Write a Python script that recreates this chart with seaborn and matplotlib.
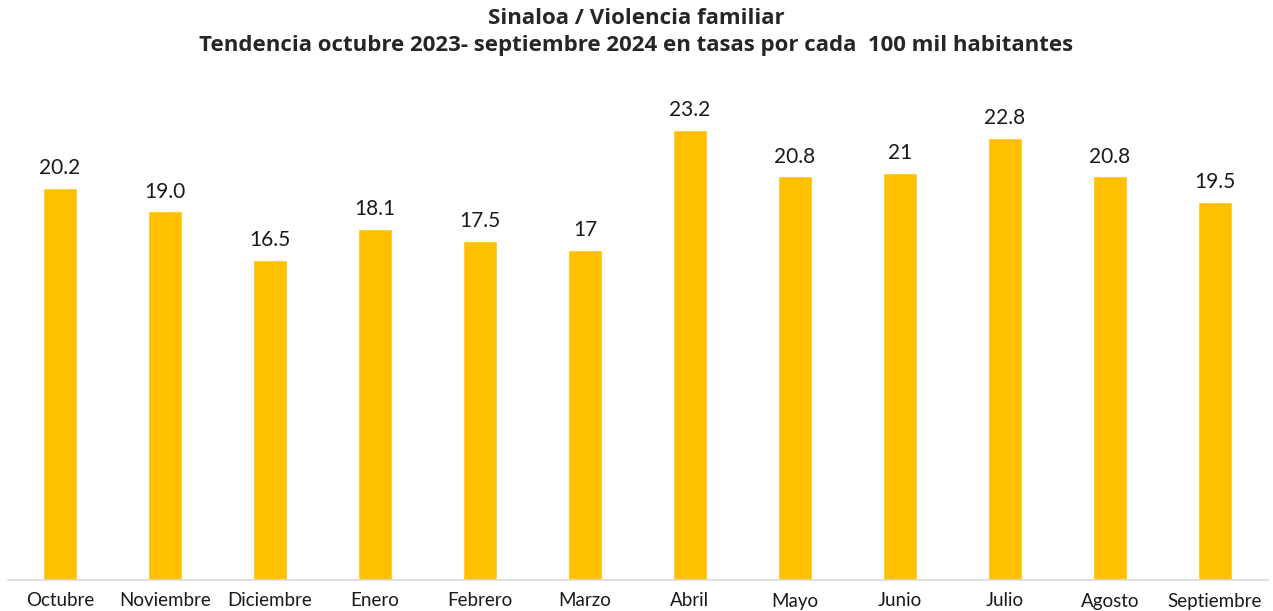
import pandas as pd
import numpy as np
import matplotlib.pyplot as plt
import seaborn as sns

# datos: tasas por cada 100 mil habitantes
meses = ['Octubre', 'Noviembre', 'Diciembre', 'Enero', 'Febrero', 'Marzo',
         'Abril', 'Mayo', 'Junio', 'Julio', 'Agosto', 'Septiembre']
tasas = [20.2, 19.0, 16.5, 18.1, 17.5, 17.0, 23.2, 20.8, 21.0, 22.8, 20.8, 19.5]
etiquetas = ['20.2', '19.0', '16.5', '18.1', '17.5', '17', '23.2', '20.8',
             '21', '22.8', '20.8', '19.5']

df = pd.DataFrame({'mes': meses, 'tasa': tasas})

sns.set_style('white')
plt.rcParams['font.family'] = ['Lato', 'DejaVu Sans']

fig = plt.figure(figsize=(12.73, 6.11), dpi=100)
ax = fig.add_axes([7.5 / 1273, 31 / 611, 1260 / 1273, 520 / 611])

sns.barplot(data=df, x='mes', y='tasa', color='#FFC000', saturation=1,
            width=0.33, ax=ax)

for i, (v, t) in enumerate(zip(tasas, etiquetas)):
    ax.text(i, v + 0.5, t, ha='center', va='bottom', fontsize=15, color='#1a1a1a')

ax.set_ylim(0, 520 / 19.4)
ax.set_xlim(-0.5, len(meses) - 0.5)
ax.set_xlabel('')
ax.set_ylabel('')
ax.set_yticks([])
ax.tick_params(axis='x', length=0, labelsize=13.5, pad=9, colors='#1a1a1a')
for s in ['top', 'left', 'right']:
    ax.spines[s].set_visible(False)
ax.spines['bottom'].set_color('#d9d9d9')
ax.spines['bottom'].set_linewidth(1.2)

fig.text(0.5, 1 - 19 / 611, 'Sinaloa / Violencia familiar', ha='center', va='center',
         fontsize=16, fontweight='bold', family=['Open Sans', 'DejaVu Sans'])
fig.text(0.5, 1 - 45 / 611,
         'Tendencia octubre 2023- septiembre 2024 en tasas por cada  100 mil habitantes',
         ha='center', va='center', fontsize=16, fontweight='bold',
         family=['Open Sans', 'DejaVu Sans'])

plt.savefig('out.png', dpi=100)
